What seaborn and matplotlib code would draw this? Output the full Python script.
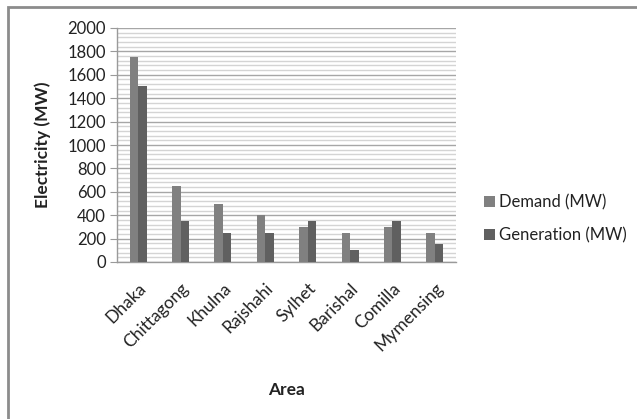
import matplotlib
matplotlib.use("Agg")
import matplotlib.pyplot as plt
from matplotlib.patches import Rectangle
from matplotlib.ticker import MultipleLocator
import seaborn as sns
import pandas as pd

areas = ["Dhaka", "Chittagong", "Khulna", "Rajshahi", "Sylhet", "Barishal", "Comilla", "Mymensing"]
demand = [1750, 650, 500, 400, 300, 250, 300, 250]
generation = [1500, 350, 250, 250, 350, 100, 350, 150]
series_names = ["Demand (MW)", "Generation (MW)"]
y_ticks = list(range(0, 2001, 200))

df = pd.DataFrame({
    "Area": areas * 2,
    "Electricity (MW)": demand + generation,
    "Series": [series_names[0]] * len(areas) + [series_names[1]] * len(areas),
})

sns.set_style("white")
plt.rcParams["font.family"] = ["Lato", "DejaVu Sans"]

fig = plt.figure(figsize=(6.37, 4.19), dpi=100)
fig.patch.set_facecolor("white")
ax = fig.add_axes([117 / 637, 1 - 262 / 419, (456 - 117) / 637, (262 - 28) / 419])

sns.barplot(data=df, x="Area", y="Electricity (MW)", hue="Series",
            palette=["#808080", "#606060"], width=0.4, saturation=1,
            linewidth=0, ax=ax, zorder=3)

ax.set_ylim(0, 2000)
ax.set_xlim(-0.5, len(areas) - 0.5)
ax.set_yticks(y_ticks)
ax.yaxis.set_minor_locator(MultipleLocator(40))
ax.grid(axis="y", which="major", color="#a6a6a6", linewidth=1.0, zorder=0)
ax.grid(axis="y", which="minor", color="#d4d4d4", linewidth=1.0, zorder=0)
ax.set_axisbelow(True)

for side in ["top", "right"]:
    ax.spines[side].set_visible(False)
for side in ["left", "bottom"]:
    ax.spines[side].set_color("#9a9a9a")
    ax.spines[side].set_linewidth(1.0)

ax.tick_params(axis="y", which="major", length=5, color="#9a9a9a", labelsize=12,
               labelcolor="#222222", pad=3, left=True)
ax.tick_params(axis="y", which="minor", length=0)
ax.tick_params(axis="x", length=0, labelsize=12.5, labelcolor="#222222", pad=13)
plt.setp(ax.get_xticklabels(), rotation=45, ha="right", rotation_mode="anchor")

ax.set_xlabel("Area", fontsize=12.5, fontweight="bold", color="#222222", labelpad=20)
ax.set_ylabel("Electricity (MW)", fontsize=12.5, fontweight="bold", color="#222222", labelpad=12)

leg = ax.legend(loc="center left", bbox_to_anchor=(1.037, 0.185), frameon=False,
                fontsize=12, handlelength=0.7, handleheight=0.7, handletextpad=0.2,
                labelspacing=1.0)
for t in leg.get_texts():
    t.set_color("#222222")

# chart frame: only the top and left edges fall inside the canvas
fig.add_artist(Rectangle((8 / 637, -0.2), 1.2, 1.2 - 7 / 419,
                         transform=fig.transFigure, fill=False,
                         edgecolor="#8c8c8c", linewidth=2.0))

fig.savefig("out.png", dpi=100)
